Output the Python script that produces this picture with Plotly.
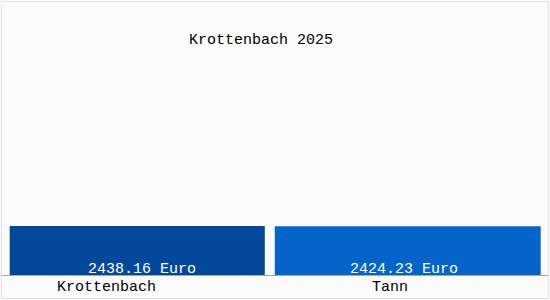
import plotly.graph_objects as go

categories = ["Krottenbach", "Tann"]
values = [2438.16, 2424.23]
value_labels = ["2438.16 Euro", "2424.23 Euro"]
title_text = "Krottenbach 2025"

bar_colors = ["#03489a", "#0464c9"]
FONT = "Liberation Mono, DejaVu Sans Mono, monospace"

W, H = 550, 300
ml, mr, mt, mb = 2.25, 6.75, 0, 25
pw = W - ml - mr
ph = H - mt - mb

def px_x(x):
    return (x - ml) / pw

def px_y(y):
    return (H - mb - y) / ph

fig = go.Figure()
fig.add_trace(go.Bar(
    x=categories,
    y=values,
    marker=dict(color=bar_colors, line=dict(width=0)),
    width=[0.943, 0.983],
    hoverinfo="skip",
))

shapes = [
    dict(type="rect", xref="paper", yref="paper",
         x0=px_x(1.5), x1=px_x(548.5), y0=px_y(298.5), y1=px_y(1.5),
         line=dict(color="#e2e2e2", width=1), layer="below"),
    dict(type="line", xref="paper", yref="paper",
         x0=px_x(1.5), x1=px_x(548.5), y0=px_y(275.5), y1=px_y(275.5),
         line=dict(color="#a0a8b4", width=1)),
]

annotations = []
for cat, lab, xs in zip(categories, value_labels, [5, -4]):
    annotations.append(dict(
        text=lab, x=cat, y=0, xref="x", yref="y", showarrow=False,
        xanchor="center", yanchor="middle", yshift=6, xshift=xs,
        font=dict(family=FONT, size=15, color="white")))

annotations += [
    dict(text=categories[0], xref="paper", yref="paper",
         x=px_x(107), y=px_y(287), showarrow=False,
         font=dict(family=FONT, size=15, color="black"),
         xanchor="center", yanchor="middle"),
    dict(text=categories[1], xref="paper", yref="paper",
         x=px_x(390), y=px_y(287), showarrow=False,
         font=dict(family=FONT, size=15, color="black"),
         xanchor="center", yanchor="middle"),
    dict(text=title_text, xref="paper", yref="paper",
         x=px_x(261), y=px_y(40), showarrow=False,
         font=dict(family=FONT, size=15, color="black"),
         xanchor="center", yanchor="middle"),
]

fig.update_layout(
    width=W, height=H,
    margin=dict(l=ml, r=mr, t=mt, b=mb, pad=0),
    paper_bgcolor="#fbfbfb",
    plot_bgcolor="rgba(0,0,0,0)",
    showlegend=False,
    xaxis=dict(showticklabels=False, showgrid=False, zeroline=False,
               showline=False, ticks=""),
    yaxis=dict(range=[0, 2438.16 * 275 / 49], visible=False,
               showgrid=False, zeroline=False),
    shapes=shapes,
    annotations=annotations,
)

fig.write_html("out.html", config={"displayModeBar": False})
